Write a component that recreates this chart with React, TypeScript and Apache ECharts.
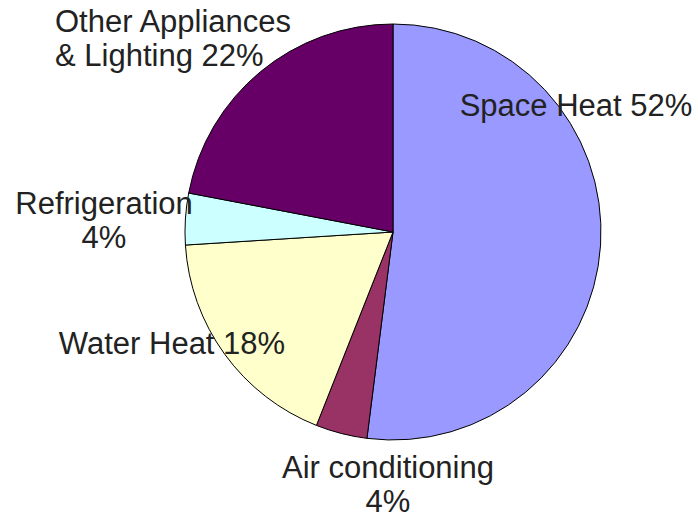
import React, { useEffect, useRef } from "react";
import * as echarts from "echarts";

const categories = ["Space Heat", "Air conditioning", "Water Heat", "Refrigeration", "Other Appliances\n& Lighting"];
const values = [52, 4, 18, 4, 22];
const labelSeparators = [" ", "\n", " ", "\n", " "];
const colors = ["#9999FF", "#993366", "#FFFFCC", "#CCFFFF", "#660066"];
// label anchor positions (pixels) and alignment
const labelX = [576, 388, 172, 104, 55];
const labelY = [105.5, 484, 343.5, 220, 38.5];
const labelAlign = ["center", "center", "center", "center", "left"];

export default function App() {
  const ref = useRef<HTMLDivElement>(null);
  useEffect(() => {
    if (!ref.current) return;
    const chart = echarts.init(ref.current, undefined, { renderer: "svg" });
    chart.setOption({
      animation: false,
      backgroundColor: "#ffffff",
      series: [
        {
          type: "pie",
          center: [393, 232],
          radius: 208,
          startAngle: 90,
          clockwise: true,
          avoidLabelOverlap: false,
          emphasis: { disabled: true },
          itemStyle: { borderColor: "#000000", borderWidth: 1 },
          label: {
            show: true,
            position: "inside",
            color: "#222222",
            fontSize: 31,
            lineHeight: 34,
            fontFamily: "'Liberation Sans', Arial, sans-serif",
            formatter: (p: any) => `${p.name}${labelSeparators[p.dataIndex]}${p.value}%`,
          },
          labelLine: { show: false },
          labelLayout: (p: any) => ({
            x: labelX[p.dataIndex],
            y: labelY[p.dataIndex],
            align: labelAlign[p.dataIndex],
            verticalAlign: "middle",
          }),
          data: categories.map((name, i) => ({
            name,
            value: values[i],
            itemStyle: { color: colors[i] },
          })),
        },
      ],
    });
    return () => chart.dispose();
  }, []);
  return (
    <div
      ref={ref}
      style={{ position: "fixed", left: 0, top: 0, width: 698, height: 519 }}
    />
  );
}
